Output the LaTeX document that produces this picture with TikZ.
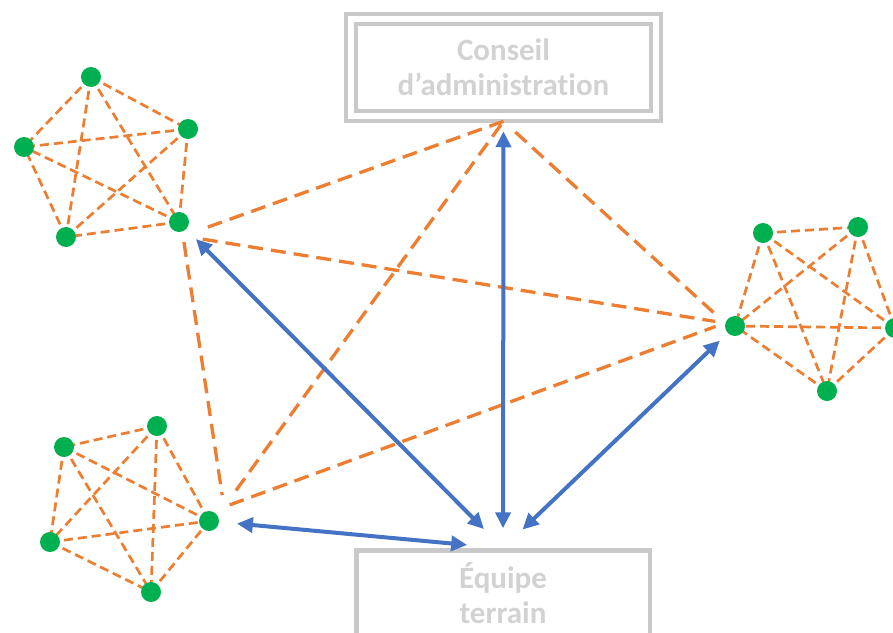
\documentclass[tikz,border=0pt]{standalone}
\usepackage{fontspec}
\setmainfont{Carlito}[Ligatures=NoCommon]
\usetikzlibrary{arrows.meta,calc}
\definecolor{linkorange}{HTML}{ED7D31}
\definecolor{dotgreen}{HTML}{00B050}
\definecolor{flowblue}{HTML}{4472C4}
\definecolor{boxgray}{HTML}{C9C9C9}
\definecolor{labelgray}{HTML}{D2D2D2}
\pgfdeclarelayer{background}
\pgfsetlayers{background,main}

\begin{document}
\begin{tikzpicture}[x=1pt,y=-1pt,
  member/.style={circle, fill=dotgreen, minimum size=20pt, inner sep=0pt},
  tie/.style={linkorange, line width=2.7pt, dash pattern=on 9pt off 5pt},
  bridge/.style={linkorange, line width=3.3pt, dash pattern=on 15pt off 8pt},
  flow/.style={flowblue, line width=4pt,
    {Triangle[length=16pt,width=15pt]}-{Triangle[length=16pt,width=15pt]}},
  boxlabel/.style={font=\fontsize{31}{35}\selectfont\bfseries, text=labelgray,
    align=center, inner sep=0pt}
]
\useasboundingbox (0,0) rectangle (893,632);

% the two boxes
\node[boxlabel, draw=boxgray, line width=4.5pt, double, double distance=5.5pt,
      minimum width=305pt, minimum height=97pt] (board) at (503.5,67.5)
      {Conseil\\d’administration};
\node[boxlabel, draw=boxgray, line width=4.5pt,
      minimum width=293.5pt, minimum height=85pt] (team) at (503,593)
      {Équipe\\terrain};

% three groups of five members
\foreach \n/\p in {A1/{(91,77)},A2/{(188,129)},A3/{(179,222)},A4/{(66,237)},A5/{(24,147)},
                   B1/{(157,426)},B2/{(64,447)},B3/{(50,542)},B4/{(151,592)},B5/{(209,521)},
                   C1/{(763,233)},C2/{(858,227)},C3/{(895,328)},C4/{(827,391)},C5/{(735,326)}}
  \node[member] (\n) at \p {};

% every member linked to every other one in its group
\begin{pgfonlayer}{background}
\foreach \g in {A,B,C}
  \foreach \i/\j in {1/2,1/3,1/4,1/5,2/3,2/4,2/5,3/4,3/5,4/5}
    \draw[tie] (\g\i.center) -- (\g\j.center);
\end{pgfonlayer}

% links between the groups and the board
\coordinate (hA) at ($(A3.center)+(4,14)$);
\coordinate (hB) at ($(B5.center)+(15,-14)$);
\coordinate (hC) at ($(C5.center)+(-10,-3)$);
\coordinate (apex) at ([yshift=-3pt]board.south);

\draw[bridge, shorten >=20pt] (apex) -- (hA);
\draw[bridge, shorten <=4pt, shorten >=16pt] (apex) -- (hB);
\draw[bridge, shorten <=16pt, shorten >=15pt] (apex) -- (hC);
\draw[bridge, shorten <=20pt, shorten >=10pt] (hA) -- (hC);
\draw[bridge, shorten <=6pt, shorten >=12pt] (hA) -- (hB);
\draw[bridge, shorten <=6pt, shorten >=10pt] (hB) -- (hC);

% two-way flows with the field team
\draw[flow, shorten <=24pt, shorten >=27pt] (A3.center) -- (team.north);
\draw[flow, shorten <=13pt, shorten >=20pt] (board.south) -- (team.north);
\draw[flow, shorten <=21pt, shorten >=27pt] (C5.center) -- (team.north);
\draw[flow, shorten <=28pt, shorten >=36pt] (B5.center) -- (team.north);
\end{tikzpicture}
\end{document}
